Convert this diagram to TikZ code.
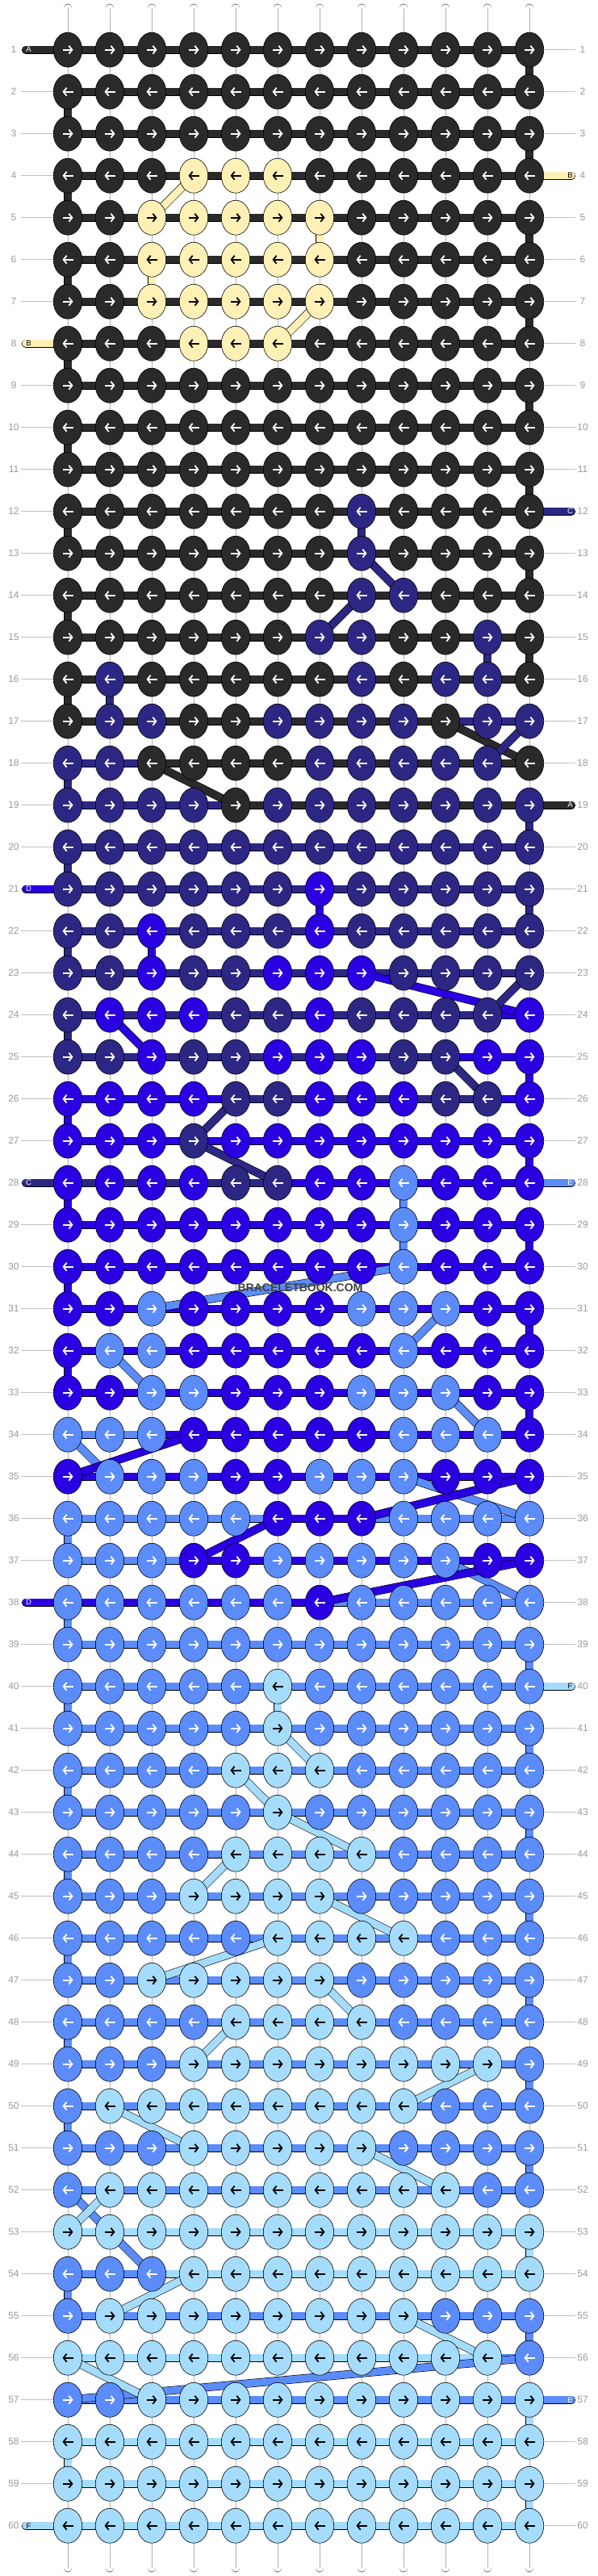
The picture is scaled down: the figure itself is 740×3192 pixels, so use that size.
\documentclass[tikz,border=0pt]{standalone}
\usepackage{fontspec}
\setmainfont{Liberation Sans}
\usepackage{tikz}
\usetikzlibrary{shapes.geometric, arrows.meta}

\definecolor{colK}{HTML}{2A2A2A}
\definecolor{colY}{HTML}{FFF1B5}
\definecolor{colN}{HTML}{2D2784}
\definecolor{colB}{HTML}{2A00E2}
\definecolor{colE}{HTML}{5B8CFA}
\definecolor{colL}{HTML}{A5DCFC}
\colorlet{arrK}{white}
\colorlet{arrY}{black}
\colorlet{arrN}{white}
\colorlet{arrB}{white}
\colorlet{arrE}{white}
\colorlet{arrL}{black}

\pgfdeclarelayer{warp}
\pgfdeclarelayer{thread}
\pgfsetlayers{warp,thread,main}

\begin{document}
\begin{tikzpicture}
	[x=1pt, y=-1pt,
	 knot/.style={ellipse, draw=black, line width=.6pt, fill=col#1,
	   minimum width=35.5pt, minimum height=43pt, inner sep=0pt},
	 knotarrow/.style={draw=arr#1, line width=1.8pt,
	   -{Straight Barb[length=4pt,width=10pt]}},
	 thread/.style={draw=black, line width=.6pt, double=col#1, double distance=9pt},
	 warp/.style={draw=black, line width=.6pt, double=white, double distance=9.5pt, line cap=round},
	 warpcore/.style={draw=black!30, line width=.8pt},
	 rownum/.style={text=black!40, font=\fontsize{12}{12}\selectfont, inner sep=0pt},
	 rowline/.style={draw=black!25, line width=.8pt},
	 stublabel/.style={font=\fontsize{9.5}{9.5}\selectfont, inner sep=0pt},
	 watermark/.style={font=\bfseries\fontsize{14}{14}\selectfont, text=black!75, inner sep=0pt}]
   \useasboundingbox (0,0) rectangle (740,3192);

   % warp strings
   \begin{pgfonlayer}{warp}
   \foreach \i in {1,...,12} {
     \coordinate (top\i) at ({84+52*(\i-1)},10);
     \coordinate (bot\i) at ({84+52*(\i-1)},3182);
     \draw[warp] (top\i) -- (bot\i);
     \draw[warpcore] (top\i) -- (bot\i);
   }
   \end{pgfonlayer}

   % knots row by row: knot colours / carried thread
   \foreach \knots/\segs [count=\r] in {
     {K,K,K,K,K,K,K,K,K,K,K,K}/{K,K,K,K,K,K,K,K,K,K,K},
     {K,K,K,K,K,K,K,K,K,K,K,K}/{K,K,K,K,K,K,K,K,K,K,K},
     {K,K,K,K,K,K,K,K,K,K,K,K}/{K,K,K,K,K,K,K,K,K,K,K},
     {K,K,K,Y,Y,Y,K,K,K,K,K,K}/{K,K,K,K,K,K,K,K,K,K,K},
     {K,K,Y,Y,Y,Y,Y,K,K,K,K,K}/{K,K,K,K,K,K,K,K,K,K,K},
     {K,K,Y,Y,Y,Y,Y,K,K,K,K,K}/{K,K,K,K,K,K,K,K,K,K,K},
     {K,K,Y,Y,Y,Y,Y,K,K,K,K,K}/{K,K,K,K,K,K,K,K,K,K,K},
     {K,K,K,Y,Y,Y,K,K,K,K,K,K}/{K,K,K,K,K,K,K,K,K,K,K},
     {K,K,K,K,K,K,K,K,K,K,K,K}/{K,K,K,K,K,K,K,K,K,K,K},
     {K,K,K,K,K,K,K,K,K,K,K,K}/{K,K,K,K,K,K,K,K,K,K,K},
     {K,K,K,K,K,K,K,K,K,K,K,K}/{K,K,K,K,K,K,K,K,K,K,K},
     {K,K,K,K,K,K,K,N,K,K,K,K}/{K,K,K,K,K,K,K,K,K,K,K},
     {K,K,K,K,K,K,K,N,K,K,K,K}/{K,K,K,K,K,K,K,K,K,K,K},
     {K,K,K,K,K,K,K,N,N,K,K,K}/{K,K,K,K,K,K,K,K,K,K,K},
     {K,K,K,K,K,K,N,N,K,K,N,K}/{K,K,K,K,K,K,K,K,K,K,K},
     {K,N,K,K,K,K,K,N,K,N,N,K}/{K,K,K,K,K,K,K,K,K,K,K},
     {K,N,N,K,K,N,N,N,N,K,N,N}/{K,K,K,K,K,K,K,K,K,N,N},
     {N,N,K,K,K,K,N,N,N,N,N,K}/{N,N,K,K,K,K,K,K,K,K,K},
     {N,N,N,N,K,N,N,N,N,N,N,N}/{N,N,N,N,K,K,K,K,K,K,K},
     {N,N,N,N,N,N,N,N,N,N,N,N}/{N,N,N,N,N,N,N,N,N,N,N},
     {N,N,N,N,N,N,B,N,N,N,N,N}/{N,N,N,N,N,N,N,N,N,N,N},
     {N,N,B,N,N,N,B,N,N,N,N,N}/{N,N,N,N,N,N,N,N,N,N,N},
     {N,N,B,N,N,B,B,B,N,N,N,N}/{N,N,N,N,N,N,N,N,N,N,N},
     {N,B,B,B,N,N,B,N,N,N,N,B}/{N,N,N,N,N,N,N,N,N,N,B},
     {N,N,B,N,N,B,B,B,N,N,B,B}/{N,N,N,N,N,N,N,N,N,B,B},
     {B,B,B,B,N,N,B,B,B,N,N,B}/{B,B,B,B,N,N,N,N,N,N,B},
     {B,B,B,N,B,B,B,B,B,B,B,B}/{B,B,B,B,B,B,B,B,B,B,B},
     {B,B,B,B,N,N,B,B,E,B,B,B}/{N,N,N,N,N,B,B,B,B,B,B},
     {B,B,B,B,B,B,B,B,E,B,B,B}/{B,B,B,B,B,B,B,B,B,B,B},
     {B,B,B,B,B,B,B,B,E,B,B,B}/{B,B,B,B,B,B,B,B,B,B,B},
     {B,B,E,B,B,B,B,E,E,E,B,B}/{B,B,B,B,B,B,B,B,B,B,B},
     {B,E,E,B,B,B,B,B,E,B,B,B}/{B,B,B,B,B,B,B,B,B,B,B},
     {B,B,E,E,B,B,B,E,E,E,B,B}/{B,B,B,B,B,B,B,B,B,B,B},
     {E,E,E,B,B,B,B,B,E,E,E,B}/{E,E,B,B,B,B,B,B,B,B,B},
     {B,E,E,E,B,B,E,E,E,B,B,B}/{B,B,B,B,B,B,B,B,B,B,B},
     {E,E,E,E,E,B,B,B,E,E,E,E}/{E,E,E,E,E,B,B,E,E,E,E},
     {E,E,E,B,B,E,E,E,E,E,B,B}/{E,E,E,B,B,B,B,B,B,B,B},
     {E,E,E,E,E,E,B,E,E,E,E,E}/{B,B,B,B,B,B,E,E,E,E,E},
     {E,E,E,E,E,E,E,E,E,E,E,E}/{E,E,E,E,E,E,E,E,E,E,E},
     {E,E,E,E,E,L,E,E,E,E,E,E}/{E,E,E,E,E,E,E,E,E,E,E},
     {E,E,E,E,E,L,E,E,E,E,E,E}/{E,E,E,E,E,E,E,E,E,E,E},
     {E,E,E,E,L,L,L,E,E,E,E,E}/{E,E,E,E,E,E,E,E,E,E,E},
     {E,E,E,E,E,L,E,E,E,E,E,E}/{E,E,E,E,E,E,E,E,E,E,E},
     {E,E,E,E,L,L,L,L,E,E,E,E}/{E,E,E,E,E,E,E,E,E,E,E},
     {E,E,E,L,L,L,L,E,E,E,E,E}/{E,E,E,E,E,E,E,E,E,E,E},
     {E,E,E,E,E,L,L,L,L,E,E,E}/{E,E,E,E,E,E,E,E,E,E,E},
     {E,E,L,L,L,L,L,E,E,E,E,E}/{E,E,E,E,E,E,E,E,E,E,E},
     {E,E,E,E,L,L,L,L,E,E,E,E}/{E,E,E,E,E,E,E,E,E,E,E},
     {E,E,E,L,L,L,L,L,L,L,L,E}/{E,E,E,E,E,E,E,E,E,E,E},
     {E,L,L,L,L,L,L,L,L,E,E,E}/{E,E,E,E,E,E,E,E,E,E,E},
     {E,E,E,L,L,L,L,L,E,E,E,E}/{E,E,E,E,E,E,E,E,E,E,E},
     {E,L,L,L,L,L,L,L,L,L,E,E}/{E,E,E,E,E,E,E,E,E,E,E},
     {L,L,L,L,L,L,L,L,L,L,L,L}/{L,L,L,L,L,L,L,L,L,L,L},
     {E,E,E,L,L,L,L,L,L,L,L,L}/{E,E,L,L,L,L,L,L,L,L,L},
     {E,L,L,L,L,L,L,L,L,E,E,E}/{E,E,E,E,E,E,E,E,E,E,E},
     {L,L,L,L,L,L,L,L,L,L,L,E}/{L,L,L,L,L,L,L,L,L,L,E},
     {E,E,L,L,L,L,L,L,L,L,L,L}/{E,E,E,E,E,E,E,E,E,E,E},
     {L,L,L,L,L,L,L,L,L,L,L,L}/{L,L,L,L,L,L,L,L,L,L,L},
     {L,L,L,L,L,L,L,L,L,L,L,L}/{L,L,L,L,L,L,L,L,L,L,L},
     {L,L,L,L,L,L,L,L,L,L,L,L}/{L,L,L,L,L,L,L,L,L,L,L}} {
     \foreach \c [count=\i] in \knots {
       \node[knot=\c] (k\r-\i) at ({84+52*(\i-1)},{61.7+52*(\r-1)}) {};
       \ifodd\r
         \draw[knotarrow=\c] ([xshift=-6.5pt]k\r-\i.center) -- ([xshift=6.5pt]k\r-\i.center);
       \else
         \draw[knotarrow=\c] ([xshift=6.5pt]k\r-\i.center) -- ([xshift=-6.5pt]k\r-\i.center);
       \fi
     }
     \begin{pgfonlayer}{thread}
     \foreach \s [count=\i] in \segs {
       \pgfmathtruncatemacro{\j}{\i+1}
       \draw[thread=\s] (k\r-\i.center) -- (k\r-\j.center);
     }
     \end{pgfonlayer}
     % row numbers
     \node[rownum] (ln\r) at (17,{61.7+52*(\r-1)}) {\r};
     \node[rownum] (rn\r) at (722,{61.7+52*(\r-1)}) {\r};
     \coordinate (lg\r) at (26,{61.7+52*(\r-1)});
     \coordinate (rg\r) at (713,{61.7+52*(\r-1)});
     \begin{pgfonlayer}{warp}
     \draw[rowline] (lg\r) -- (k\r-1.center);
     \draw[rowline] (k\r-12.center) -- (rg\r);
     \end{pgfonlayer}
   }

   \begin{pgfonlayer}{thread}
   % turns at the row ends
   \foreach \v [count=\r] in {K,K,K,K,K,K,K,K,K,K,K,K,K,K,K,K,X,N,N,N,N,N,X,N,
       B,B,B,B,B,B,B,B,B,X,X,E,X,E,E,E,E,E,E,E,E,E,E,E,E,E,E,X,L,E,E,X,L,L,L} {
     \pgfmathtruncatemacro{\s}{\r+1}
     \ifodd\r \def\edgecol{12}\else \def\edgecol{1}\fi
     \if\v X\else
       \draw[thread=\v] (k\r-\edgecol.center) -- (k\s-\edgecol.center);
     \fi
   }
   % threads that go down or jump
   \foreach \a/\b/\v in {4-4/5-3/Y, 7-7/8-6/Y, 5-7/6-7/Y, 6-3/7-3/Y,
       12-8/13-8/N, 13-8/14-9/N, 14-8/15-7/N, 15-11/16-11/N, 16-2/17-2/N,
       17-10/18-12/K, 17-12/18-11/N, 18-3/19-5/K,
       21-7/22-7/B, 22-3/23-3/B, 23-8/24-12/B, 23-12/24-11/N, 24-2/25-3/B,
       25-10/26-11/N, 26-5/27-4/N, 27-4/28-6/N,
       28-9/29-9/E, 29-9/30-9/E, 30-9/31-3/E, 31-10/32-9/E, 32-2/33-3/E,
       33-10/34-11/E, 34-1/35-2/E, 34-4/35-1/B, 35-9/36-12/E, 35-12/36-8/B,
       36-6/37-4/B, 37-10/38-12/E, 37-12/38-7/B,
       40-6/41-6/L, 41-6/42-7/L, 42-5/43-6/L, 43-6/44-8/L, 44-5/45-4/L,
       45-7/46-9/L, 46-6/47-3/L, 47-7/48-8/L, 48-5/49-4/L, 49-11/50-9/L,
       50-2/51-4/L, 51-8/52-10/L, 52-1/53-2/E, 52-2/53-1/L, 53-2/54-3/E,
       54-4/55-2/L, 55-9/56-11/L, 56-12/57-1/E, 56-1/57-3/L} {
     \draw[thread=\v] (k\a.center) -- (k\b.center);
   }
   \end{pgfonlayer}

   % loose ends with their letters
   \foreach \r/\lbl/\v in {1/A/K, 8/B/Y, 21/D/B, 28/C/N, 38/D/B, 60/F/L} {
     \coordinate (sl\r) at (32,{61.7+52*(\r-1)});
     \begin{pgfonlayer}{thread}
     \draw[thread=\v, line cap=round] (sl\r) -- (k\r-1.center);
     \end{pgfonlayer}
     \node[stublabel, text=arr\v] (tl\r) at (35.5,{61.7+52*(\r-1)}) {\lbl};
   }
   \foreach \r/\lbl/\v in {4/B/Y, 12/C/N, 19/A/K, 28/E/E, 40/F/L, 57/E/E} {
     \coordinate (sr\r) at (708,{61.7+52*(\r-1)});
     \begin{pgfonlayer}{thread}
     \draw[thread=\v, line cap=round] (k\r-12.center) -- (sr\r);
     \end{pgfonlayer}
     \node[stublabel, text=arr\v] (tr\r) at (706.5,{61.7+52*(\r-1)}) {\lbl};
   }

   \node[watermark] (wm) at (372,1596) {BRACELETBOOK.COM};
\end{tikzpicture}
\end{document}
